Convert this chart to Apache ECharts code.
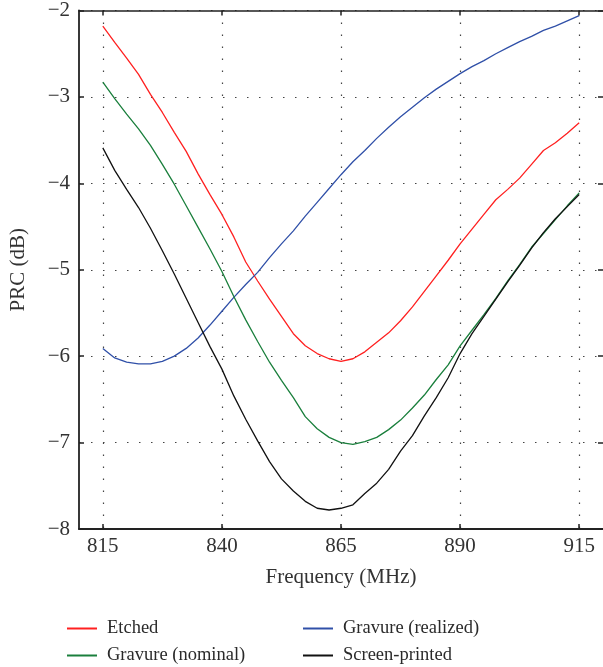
<!DOCTYPE html>
<html>
<head>
<meta charset="utf-8">
<script src="https://cdn.jsdelivr.net/npm/echarts@6/dist/echarts.min.js"></script>
<style>
html,body{margin:0;padding:0;background:#fff;}
#chart{width:603px;height:667px;}
</style>
</head>
<body>
<div id="chart"></div>
<script>
var freq = [815, 817.5, 820, 822.5, 825, 827.5, 830, 832.5, 835, 837.5, 840, 842.5, 845, 847.5, 850, 852.5, 855, 857.5, 860, 862.5, 865, 867.5, 870, 872.5, 875, 877.5, 880, 882.5, 885, 887.5, 890, 892.5, 895, 897.5, 900, 902.5, 905, 907.5, 910, 912.5, 915];
var etched = [-2.18, -2.37, -2.55, -2.74, -2.97, -3.18, -3.41, -3.63, -3.89, -4.13, -4.36, -4.62, -4.91, -5.13, -5.34, -5.54, -5.74, -5.88, -5.97, -6.03, -6.06, -6.03, -5.95, -5.84, -5.73, -5.59, -5.43, -5.25, -5.07, -4.89, -4.70, -4.53, -4.36, -4.19, -4.07, -3.94, -3.78, -3.62, -3.53, -3.42, -3.30];
var gravureRealized = [-5.91, -6.02, -6.07, -6.09, -6.09, -6.06, -6.00, -5.91, -5.79, -5.64, -5.48, -5.32, -5.17, -5.03, -4.86, -4.70, -4.55, -4.38, -4.22, -4.06, -3.90, -3.75, -3.62, -3.48, -3.35, -3.23, -3.12, -3.01, -2.91, -2.82, -2.73, -2.65, -2.58, -2.50, -2.43, -2.36, -2.30, -2.23, -2.18, -2.12, -2.06];
var gravureNominal = [-2.83, -3.02, -3.20, -3.37, -3.56, -3.78, -4.01, -4.26, -4.51, -4.76, -5.02, -5.31, -5.58, -5.83, -6.07, -6.28, -6.48, -6.70, -6.84, -6.94, -7.00, -7.02, -6.99, -6.94, -6.85, -6.74, -6.60, -6.45, -6.27, -6.10, -5.88, -5.70, -5.52, -5.33, -5.13, -4.94, -4.74, -4.58, -4.42, -4.26, -4.11];
var screenPrinted = [-3.59, -3.85, -4.07, -4.28, -4.52, -4.78, -5.05, -5.33, -5.61, -5.89, -6.15, -6.46, -6.73, -6.98, -7.22, -7.42, -7.56, -7.68, -7.76, -7.78, -7.76, -7.72, -7.59, -7.47, -7.31, -7.10, -6.92, -6.69, -6.48, -6.25, -5.97, -5.74, -5.54, -5.34, -5.14, -4.95, -4.75, -4.57, -4.41, -4.27, -4.13];
var xTicks = [815, 840, 865, 890, 915];
var seriesNames = ['Etched', 'Gravure (realized)', 'Gravure (nominal)', 'Screen-printed'];
var colors = ['#ff2020', '#3050a8', '#1a7f3c', '#111111'];

function pairs(ys) { return freq.map(function (f, i) { return [f, ys[i]]; }); }
var FONT = '"Liberation Serif", "DejaVu Serif", serif';
var dotted = { type: [1.5, 10.5], color: '#444', width: 1.2 };

// legend slots: [left, top] for each series name
var legendPos = [[67, 619], [303, 619], [67, 646], [303, 646]];

var chart = echarts.init(document.getElementById('chart'), null, { renderer: 'canvas' });
chart.setOption({
  animation: false,
  backgroundColor: '#fff',
  grid: { left: 76, right: 0, top: 9, bottom: 138, containLabel: false },
  xAxis: [{
    type: 'value', position: 'bottom', min: 810, max: 920,
    name: 'Frequency (MHz)', nameLocation: 'middle', nameGap: 38,
    nameTextStyle: { fontFamily: FONT, fontSize: 21, color: '#333' },
    axisLine: { show: true, lineStyle: { color: '#222', width: 1.8 } },
    axisTick: { show: true, inside: true, length: 5, customValues: xTicks, lineStyle: { color: '#222', width: 1.5 } },
    axisLabel: { show: true, customValues: xTicks, margin: 7, fontFamily: FONT, fontSize: 21, color: '#333' },
    splitLine: { show: true, lineStyle: dotted }
  }, {
    type: 'value', position: 'top', min: 810, max: 920,
    axisLine: { show: true, onZero: false, lineStyle: { color: '#222', width: 1.5 } },
    axisTick: { show: true, inside: true, length: 5, customValues: xTicks, lineStyle: { color: '#222', width: 1.5 } },
    axisLabel: { show: false },
    splitLine: { show: false }
  }],
  yAxis: [{
    type: 'value', position: 'left', min: -8, max: -2, interval: 1,
    name: 'PRC (dB)', nameLocation: 'middle', nameGap: 50,
    nameTextStyle: { fontFamily: FONT, fontSize: 21, color: '#333' },
    axisLine: { show: true, onZero: false, lineStyle: { color: '#222', width: 1.8 } },
    axisTick: { show: true, inside: true, length: 5, lineStyle: { color: '#222', width: 1.5 } },
    axisLabel: { show: true, margin: 9, fontFamily: FONT, fontSize: 21, color: '#333',
      formatter: function (v) { return String(v).replace('-', '\u2212'); } },
    splitLine: { show: true, lineStyle: dotted }
  }, {
    type: 'value', position: 'right', min: -8, max: -2, interval: 1,
    axisLine: { show: false },
    axisTick: { show: true, inside: true, length: 5, lineStyle: { color: '#222', width: 1.5 } },
    axisLabel: { show: false },
    splitLine: { show: false }
  }],
  legend: seriesNames.map(function (n, i) {
    return {
      left: legendPos[i][0], top: legendPos[i][1], padding: 0,
      data: [n], selectedMode: false,
      icon: 'rect', itemWidth: 30, itemHeight: 2,
      textStyle: { fontFamily: FONT, fontSize: 18.5, color: '#2a2a2a', padding: [0, 0, 0, 5] }
    };
  }),
  series: [
    { name: seriesNames[0], type: 'line', data: pairs(etched) },
    { name: seriesNames[1], type: 'line', data: pairs(gravureRealized) },
    { name: seriesNames[2], type: 'line', data: pairs(gravureNominal) },
    { name: seriesNames[3], type: 'line', data: pairs(screenPrinted) }
  ].map(function (s, i) {
    s.symbol = 'none';
    s.color = colors[i];
    s.lineStyle = { color: colors[i], width: 1.3 };
    s.itemStyle = { color: colors[i] };
    return s;
  })
});
</script>
</body>
</html>
